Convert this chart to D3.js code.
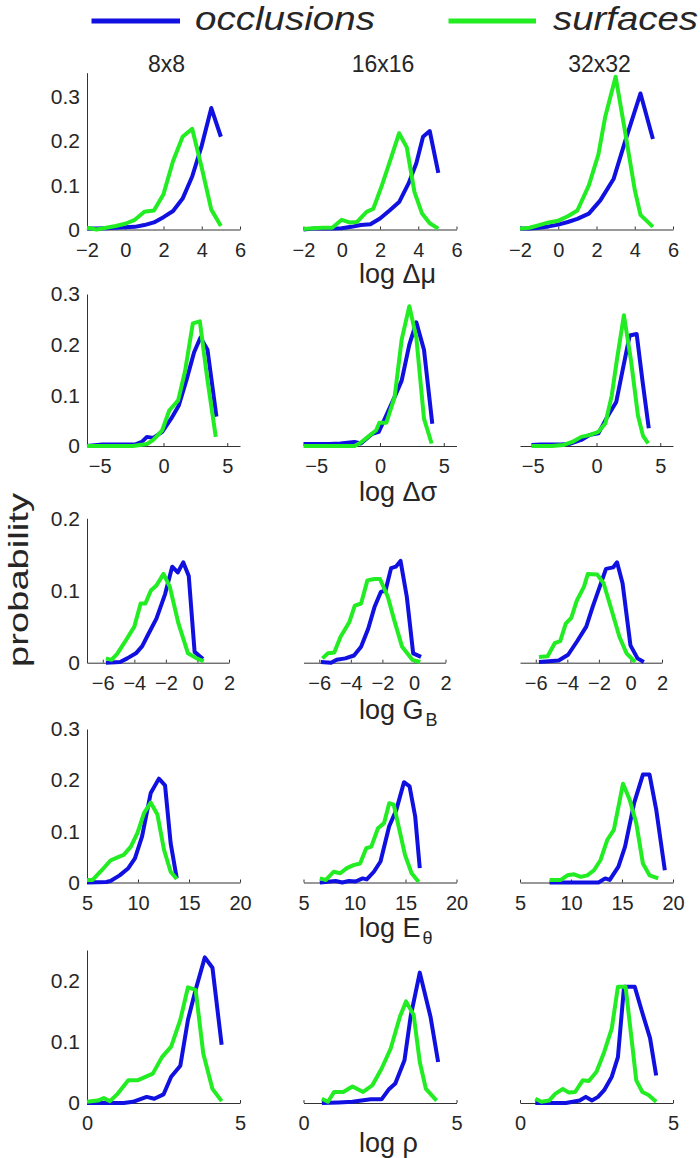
<!DOCTYPE html>
<html>
<head>
<meta charset="utf-8">
<script src="https://cdn.jsdelivr.net/npm/d3@7"></script>
<style>
  body { margin: 0; background: #fff; }
  text { font-family: "Liberation Sans", Arial, sans-serif; fill: #262626; }
</style>
</head>
<body>
<script>
(function (d3) {
  "use strict";

  /***** Data *****/
  var seriesNames = ["occlusions", "surfaces"];
  var patchSizes = ["8x8", "16x16", "32x32"];

  // log delta mu
  var dmu8Occ = [[-2,0.002],[-1.5,0.002],[-1,0.003],[-0.5,0.004],[0,0.005],[0.5,0.006],[1,0.01],[1.5,0.016],[2,0.028],[2.5,0.042],[3,0.07],[3.5,0.12],[4,0.19],[4.5,0.275],[5,0.21]];
  var dmu8Surf = [[-2,0.004],[-1.5,0.0],[-1,0.004],[-0.5,0.008],[0,0.013],[0.5,0.022],[1,0.04],[1.5,0.043],[2,0.08],[2.5,0.155],[3,0.21],[3.5,0.228],[4,0.14],[4.5,0.045],[5,0.008]];
  var dmu16Occ = [[-2,0],[-1.5,0.002],[-1,0.002],[-0.5,0.002],[0,0.003],[0.5,0.006],[1,0.01],[1.5,0.012],[2,0.025],[2.5,0.043],[3,0.062],[3.5,0.105],[3.9,0.15],[4.25,0.21],[4.6,0.223],[5.05,0.128]];
  var dmu16Surf = [[-2,0.001],[-1.5,0.003],[-1,0.004],[-0.5,0.004],[0,0.022],[0.4,0.016],[0.8,0.017],[1.3,0.04],[1.65,0.047],[2.1,0.1],[2.6,0.165],[3.0,0.218],[3.4,0.186],[3.8,0.085],[4.2,0.036],[4.6,0.014],[5.05,0.002]];
  var dmu32Occ = [[-2,0.002],[-1.5,0.002],[-1,0.004],[-0.5,0.007],[0,0.011],[0.5,0.017],[1,0.024],[1.6,0.036],[2.2,0.066],[2.9,0.115],[3.5,0.2],[4.3,0.308],[4.95,0.205]];
  var dmu32Surf = [[-2,0.002],[-1.5,0.004],[-1,0.01],[-0.5,0.016],[0,0.02],[0.5,0.03],[1,0.043],[1.6,0.1],[2.1,0.17],[2.45,0.254],[3,0.346],[3.5,0.22],[4,0.09],[4.3,0.033],[4.95,0.006]];

  // log delta sigma
  var dsd8Occ = [[-6,0],[-4.8,0.003],[-4,0.003],[-3,0.003],[-2.2,0.003],[-1.7,0.008],[-1.3,0.018],[-0.8,0.016],[-0.1,0.028],[0.6,0.054],[1.2,0.08],[1.8,0.13],[2.4,0.185],[2.9,0.214],[3.45,0.19],[4.15,0.058]];
  var dsd8Surf = [[-6,0],[-5,0],[-4,0],[-3,0],[-2.4,0],[-1.3,0.004],[-0.8,0.012],[-0.1,0.031],[0.45,0.07],[1.15,0.09],[1.7,0.149],[2.3,0.242],[2.85,0.246],[3.45,0.13],[4.1,0.018]];
  var dsd16Occ = [[-6,0.004],[-5,0.004],[-4,0.004],[-3.1,0.005],[-2,0.008],[-1.5,0.005],[-0.6,0.024],[-0.1,0.028],[0.45,0.058],[1.15,0.097],[1.7,0.129],[2.3,0.2],[2.85,0.244],[3.45,0.19],[4.1,0.044]];
  var dsd16Surf = [[-6,0],[-5,0],[-4,0],[-3,0],[-2,0],[-1.5,0.007],[-0.95,0.018],[-0.3,0.031],[-0.05,0.046],[0.5,0.046],[1.15,0.097],[1.7,0.21],[2.3,0.276],[2.85,0.214],[3.45,0.054],[4.05,0.005]];
  var dsd32Occ = [[-5.1,0.002],[-4.4,0.003],[-3.5,0.003],[-2.8,0.003],[-2.1,0.004],[-1.2,0.012],[-0.5,0.022],[0.15,0.025],[0.85,0.058],[1.55,0.087],[2.1,0.156],[2.6,0.218],[3.15,0.221],[3.6,0.13],[4.1,0.035]];
  var dsd32Surf = [[-5.1,0],[-4.4,0],[-3.5,0],[-2.6,0.002],[-1.9,0.008],[-1.2,0.018],[-0.5,0.022],[0.15,0.028],[0.7,0.045],[1.2,0.1],[1.6,0.17],[2.15,0.258],[2.7,0.17],[3.25,0.06],[3.65,0.02],[4.05,0.005]];

  // log G_B
  var gb8Occ = [[-5.8,0],[-4.9,0.001],[-4.45,0.006],[-3.9,0.013],[-3.5,0.023],[-3.15,0.038],[-2.6,0.061],[-2.05,0.095],[-1.6,0.133],[-1.25,0.125],[-0.9,0.139],[-0.55,0.12],[-0.18,0.015],[0.35,0.005]];
  var gb8Surf = [[-5.8,0.006],[-5.45,0.004],[-5.1,0.012],[-4.65,0.027],[-4.0,0.05],[-3.6,0.082],[-3.3,0.082],[-2.95,0.1],[-2.6,0.107],[-2.15,0.123],[-1.75,0.105],[-1.2,0.054],[-0.6,0.013],[-0.05,0.006],[0.4,0.002]];
  var gb16Occ = [[-5.9,0.001],[-5.25,0],[-4.9,0.004],[-4.35,0.006],[-3.8,0.01],[-3.35,0.022],[-2.9,0.047],[-2.5,0.077],[-2.1,0.098],[-1.8,0.1],[-1.45,0.131],[-1.15,0.133],[-0.85,0.141],[-0.45,0.091],[-0.05,0.013],[0.45,0.008]];
  var gb16Surf = [[-5.8,0.006],[-5.45,0.013],[-5.05,0.014],[-4.65,0.036],[-4.1,0.056],[-3.75,0.079],[-3.35,0.082],[-2.95,0.114],[-2.5,0.116],[-2.15,0.116],[-1.65,0.091],[-1.25,0.059],[-0.75,0.022],[-0.1,0.004],[0.4,0.001]];
  var gb32Occ = [[-5.8,0.001],[-4.55,0.003],[-3.95,0.011],[-3.4,0.029],[-2.8,0.05],[-2.4,0.077],[-1.95,0.105],[-1.55,0.13],[-1.1,0.132],[-0.85,0.139],[-0.5,0.11],[0.0,0.024],[0.45,0.006],[0.85,0.001]];
  var gb32Surf = [[-5.8,0.008],[-5.25,0.009],[-4.8,0.027],[-4.45,0.03],[-4.1,0.054],[-3.75,0.062],[-3.4,0.086],[-2.95,0.105],[-2.7,0.123],[-2.1,0.122],[-1.7,0.11],[-1.25,0.077],[-0.7,0.036],[-0.25,0.013],[0.3,0.001]];

  // log E_theta
  var et8Occ = [[5,0],[6.9,0.001],[7.3,0.003],[8.2,0.014],[9.05,0.028],[9.7,0.047],[10.4,0.09],[11.25,0.175],[12.05,0.203],[12.65,0.19],[13.2,0.077],[13.8,0.008]];
  var et8Surf = [[5,0.005],[5.55,0.005],[6.45,0.024],[7.3,0.043],[8.1,0.05],[8.6,0.054],[9.3,0.07],[9.95,0.097],[10.6,0.136],[11.25,0.156],[11.9,0.133],[12.55,0.064],[13.2,0.021],[13.8,0.007]];
  var et16Occ = [[6.6,0],[8.15,0.003],[8.8,0],[9.45,0.003],[10.1,0.002],[10.8,0.008],[11.2,0.006],[11.9,0.021],[12.55,0.041],[13.4,0.11],[14.1,0.142],[14.85,0.196],[15.4,0.188],[15.95,0.129],[16.4,0.028]];
  var et16Surf = [[6.6,0.008],[7.2,0.005],[7.95,0.021],[8.6,0.018],[9.25,0.028],[9.9,0.034],[10.55,0.037],[11.15,0.067],[11.65,0.07],[12.3,0.106],[12.9,0.116],[13.4,0.155],[13.85,0.152],[14.4,0.103],[14.95,0.054],[15.6,0.018],[16.3,0.001]];
  var et32Occ = [[7.9,0],[9,0],[10,0],[11,0],[12,0],[12.7,0],[13.35,0.008],[13.8,0.005],[14.65,0.031],[15.3,0.07],[16.2,0.156],[17.05,0.211],[17.7,0.211],[18.35,0.143],[19.2,0.024]];
  var et32Surf = [[7.9,0.005],[9,0.005],[9.65,0.014],[10.3,0.016],[10.95,0.011],[11.6,0.014],[12.25,0.024],[12.9,0.044],[13.55,0.083],[14.2,0.103],[15.1,0.193],[15.75,0.162],[16.4,0.116],[17.05,0.037],[17.7,0.014],[18.55,0.008]];

  // log rho
  var rho8Occ = [[0,0],[0.6,0],[1.2,0],[1.5,0.002],[1.95,0.01],[2.2,0.007],[2.5,0.014],[2.75,0.043],[3.05,0.061],[3.3,0.136],[3.55,0.185],[3.85,0.238],[4.1,0.221],[4.4,0.095]];
  var rho8Surf = [[0,0.002],[0.35,0.004],[0.55,0.008],[0.75,0.003],[1.0,0.015],[1.35,0.037],[1.65,0.037],[2.15,0.048],[2.45,0.075],[2.75,0.092],[3.05,0.136],[3.3,0.189],[3.55,0.185],[3.8,0.081],[4.1,0.023],[4.4,0.003]];
  var rho16Occ = [[0.6,0],[1.15,0.001],[1.6,0.002],[1.9,0.004],[2.2,0.006],[2.55,0.006],[2.8,0.023],[3.0,0.032],[3.3,0.07],[3.5,0.141],[3.8,0.213],[4.15,0.141],[4.4,0.067]];
  var rho16Surf = [[0.6,0.007],[0.8,0.002],[1.0,0.018],[1.3,0.018],[1.6,0.027],[1.95,0.018],[2.25,0.029],[2.55,0.056],[2.85,0.089],[3.15,0.141],[3.35,0.166],[3.6,0.144],[3.8,0.067],[4.0,0.023],[4.35,0.004]];
  var rho32Occ = [[0.5,0],[1.0,0],[1.5,0],[1.95,0.004],[2.15,0.01],[2.35,0.004],[2.55,0.01],[2.75,0.021],[3.0,0.043],[3.2,0.075],[3.4,0.19],[3.75,0.19],[4.0,0.147],[4.25,0.106],[4.45,0.045]];
  var rho32Surf = [[0.5,0.007],[0.7,0.002],[0.95,0.004],[1.15,0.015],[1.4,0.023],[1.6,0.017],[1.8,0.018],[2.05,0.037],[2.25,0.036],[2.5,0.051],[2.75,0.083],[3.0,0.122],[3.2,0.19],[3.45,0.19],[3.65,0.103],[3.8,0.037],[4.0,0.018],[4.2,0.013],[4.45,0.002]];

  /***** Axis limits and tick labels *****/
  var dmuTicks = [-2, 0, 2, 4, 6];
  var dsdTicks = [-5, 0, 5];
  var gbTicks = [-6, -4, -2, 0, 2];
  var etTicks = [5, 10, 15, 20];
  var rhoTicks = [0, 5];
  var probTicks3 = [0, 0.1, 0.2, 0.3];
  var probTicks2 = [0, 0.1, 0.2];

  var rows = [
    { label: ["log \u0394\u03bc", null], xDomain: [-2, 6], xTicks: dmuTicks, yMax: 0.355, yTicks: probTicks3,
      series: [[dmu8Occ, dmu8Surf], [dmu16Occ, dmu16Surf], [dmu32Occ, dmu32Surf]] },
    { label: ["log \u0394\u03c3", null], xDomain: [-6, 6], xTicks: dsdTicks, yMax: 0.3, yTicks: probTicks3,
      series: [[dsd8Occ, dsd8Surf], [dsd16Occ, dsd16Surf], [dsd32Occ, dsd32Surf]] },
    { label: ["log G", "B"], xDomain: [-7, 2], xTicks: gbTicks, yMax: 0.2, yTicks: probTicks2,
      series: [[gb8Occ, gb8Surf], [gb16Occ, gb16Surf], [gb32Occ, gb32Surf]] },
    { label: ["log E", "\u03b8"], xDomain: [5, 20], xTicks: etTicks, yMax: 0.3, yTicks: probTicks3,
      series: [[et8Occ, et8Surf], [et16Occ, et16Surf], [et32Occ, et32Surf]] },
    { label: ["log \u03c1", null], xDomain: [0, 5], xTicks: rhoTicks, yMax: 0.25, yTicks: probTicks2,
      series: [[rho8Occ, rho8Surf], [rho16Occ, rho16Surf], [rho32Occ, rho32Surf]] }
  ];

  /***** Layout *****/
  var colLeft = [87, 303.5, 520];
  var rowWidth = [153, 153, 142, 153, 153];
  var rowBase = [229.5, 446, 662.7, 882.5, 1103];
  var rowTop = [72.7, 294, 518.3, 729, 950];
  var labelBase = [283, 501, 719, 937, 1152];
  var color = d3.scaleOrdinal().domain(seriesNames).range(["#1010e0", "#22ec22"]);

  var fmtX = function (v) { return v < 0 ? "\u2212" + Math.abs(v) : String(v); };
  var fmtY = function (v) { return v === 0 ? "0" : d3.format(".1f")(v); };

  var svg = d3.select("body").append("svg")
    .attr("width", 700)
    .attr("height", 1158);

  /***** Legend *****/
  var legendX = [[91.5, 180, 195, 180], [448.5, 536, 553, 145]];
  seriesNames.forEach(function (name, i) {
    svg.append("line")
      .attr("x1", legendX[i][0]).attr("x2", legendX[i][1])
      .attr("y1", 21).attr("y2", 21)
      .attr("stroke", color(name))
      .attr("stroke-width", 5);
    svg.append("text")
      .attr("x", legendX[i][2]).attr("y", 30)
      .attr("font-size", 33)
      .attr("font-style", "italic")
      .attr("textLength", legendX[i][3])
      .attr("lengthAdjust", "spacingAndGlyphs")
      .text(name);
  });

  /***** Column titles *****/
  patchSizes.forEach(function (s, c) {
    svg.append("text")
      .attr("x", colLeft[c] + rowWidth[0] / 2 + 3)
      .attr("y", 72)
      .attr("text-anchor", "middle")
      .attr("font-size", 23)
      .text(s);
  });

  /***** Y label *****/
  svg.append("text")
    .attr("transform", "translate(28,580) rotate(-90)")
    .attr("text-anchor", "middle")
    .attr("font-size", 28)
    .attr("textLength", 174)
    .attr("lengthAdjust", "spacingAndGlyphs")
    .text("probability");

  /***** Panels *****/
  rows.forEach(function (row, r) {
    var y = d3.scaleLinear().domain([0, row.yMax]).range([rowBase[r], rowTop[r]]);

    row.series.forEach(function (pair, c) {
      var x = d3.scaleLinear().domain(row.xDomain).range([colLeft[c], colLeft[c] + rowWidth[r]]);
      var g = svg.append("g");

      var xAxis = d3.axisBottom(x)
        .tickValues(row.xTicks)
        .tickFormat(fmtX)
        .tickSizeInner(-3)
        .tickSizeOuter(0)
        .tickPadding(13);

      var ax = g.append("g")
        .attr("transform", "translate(0," + rowBase[r] + ")")
        .call(xAxis);
      ax.selectAll("text").attr("font-size", 20).attr("font-family", null).attr("fill", null);
      ax.selectAll("path, line").attr("stroke", "#333");

      if (c === 0) {
        var yAxis = d3.axisLeft(y)
          .tickValues(row.yTicks)
          .tickFormat(fmtY)
          .tickSizeInner(0)
          .tickSizeOuter(0)
          .tickPadding(7);
        var ay = g.append("g")
          .attr("transform", "translate(" + colLeft[c] + ",0)")
          .call(yAxis);
        ay.selectAll("text").attr("font-size", 21).attr("font-family", null).attr("fill", null);
        ay.selectAll("path").attr("stroke", "#333");
      }

      var line = d3.line()
        .x(function (d) { return x(d[0]); })
        .y(function (d) { return y(d[1]); });

      pair.forEach(function (data, k) {
        g.append("path")
          .datum(data)
          .attr("d", line)
          .attr("fill", "none")
          .attr("stroke", color(seriesNames[k]))
          .attr("stroke-width", 4)
          .attr("stroke-linejoin", "round");
      });
    });

    // x label under the middle panel
    var t = svg.append("text")
      .attr("x", 359)
      .attr("y", labelBase[r])
      .attr("font-size", 27)
      .text(row.label[0]);
    if (row.label[1]) {
      t.append("tspan")
        .attr("font-size", 18)
        .attr("dx", 2)
        .attr("dy", 7)
        .text(row.label[1]);
    }
  });

})(d3);
</script>
</body>
</html>
